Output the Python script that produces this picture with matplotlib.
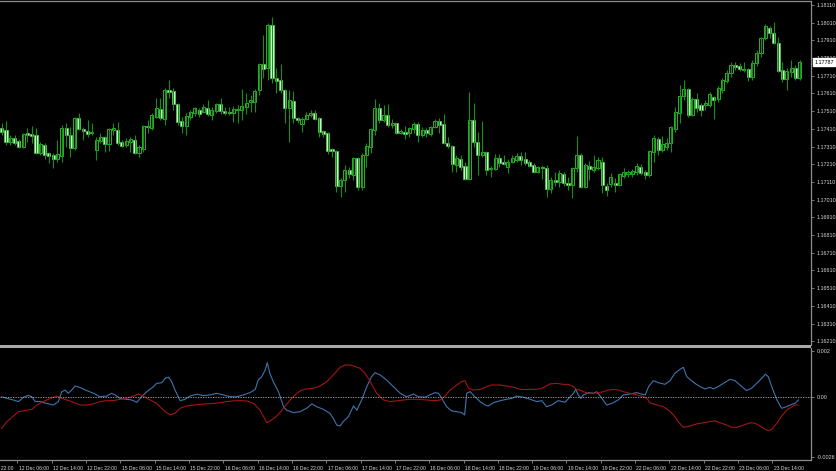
import numpy as np
import matplotlib
matplotlib.use('Agg')
import matplotlib.pyplot as plt
from matplotlib.patches import Rectangle
import matplotlib.transforms as mtransforms

plt.rcParams['font.family'] = ['Liberation Sans', 'DejaVu Sans']

# H1 candles, 12 Dec 02:00 .. 23 Dec 20:00
opens = [1.17413, 1.17404, 1.17337, 1.17357, 1.17343, 1.17309, 1.17388, 1.17379, 1.17375, 1.17272,
         1.17319, 1.17272, 1.17262, 1.17238, 1.17257, 1.17413, 1.17375, 1.17300, 1.17473, 1.17407,
         1.17398, 1.17385, 1.17291, 1.17343, 1.17366, 1.17323, 1.17404, 1.17404, 1.17337, 1.17319,
         1.17334, 1.17347, 1.17275, 1.17294, 1.17426, 1.17413, 1.17479, 1.17520, 1.17464, 1.17630,
         1.17624, 1.17550, 1.17456, 1.17426, 1.17475, 1.17498, 1.17516, 1.17507, 1.17529, 1.17488,
         1.17511, 1.17549, 1.17511, 1.17505, 1.17498, 1.17516, 1.17516, 1.17532, 1.17560, 1.17563,
         1.17630, 1.17776, 1.17752, 1.17997, 1.17696, 1.17686, 1.17630, 1.17526, 1.17569, 1.17471,
         1.17437, 1.17464, 1.17487, 1.17501, 1.17470, 1.17396, 1.17388, 1.17294, 1.17286, 1.17087,
         1.17121, 1.17178, 1.17149, 1.17244, 1.17080, 1.17262, 1.17309, 1.17404, 1.17526, 1.17460,
         1.17488, 1.17432, 1.17441, 1.17385, 1.17394, 1.17388, 1.17409, 1.17436, 1.17375, 1.17404,
         1.17381, 1.17422, 1.17454, 1.17437, 1.17328, 1.17313, 1.17206, 1.17240, 1.17200, 1.17127,
         1.17460, 1.17337, 1.17262, 1.17281, 1.17181, 1.17181, 1.17244, 1.17221, 1.17196, 1.17224,
         1.17234, 1.17257, 1.17238, 1.17221, 1.17206, 1.17168, 1.17193, 1.17190, 1.17068, 1.17121,
         1.17112, 1.17155, 1.17106, 1.17093, 1.17187, 1.17262, 1.17083, 1.17200, 1.17178, 1.17190,
         1.17224, 1.17087, 1.17098, 1.17102, 1.17093, 1.17145, 1.17155, 1.17155, 1.17164, 1.17196,
         1.17168, 1.17149, 1.17281, 1.17351, 1.17291, 1.17309, 1.17328, 1.17407, 1.17498, 1.17596,
         1.17633, 1.17488, 1.17577, 1.17545, 1.17545, 1.17545, 1.17588, 1.17577, 1.17630, 1.17682,
         1.17724, 1.17771, 1.17765, 1.17743, 1.17746, 1.17705, 1.17780, 1.17837, 1.17921, 1.17978,
         1.17953, 1.17893, 1.17743, 1.17690, 1.17733, 1.17752, 1.17696]
highs = [1.17441, 1.17456, 1.17375, 1.17375, 1.17351, 1.17385, 1.17413, 1.17428, 1.17413, 1.17337,
         1.17328, 1.17281, 1.17272, 1.17347, 1.17432, 1.17441, 1.17422, 1.17479, 1.17498, 1.17422,
         1.17460, 1.17445, 1.17366, 1.17388, 1.17370, 1.17413, 1.17441, 1.17450, 1.17347, 1.17357,
         1.17366, 1.17375, 1.17319, 1.17432, 1.17460, 1.17498, 1.17583, 1.17583, 1.17639, 1.17686,
         1.17639, 1.17554, 1.17475, 1.17498, 1.17516, 1.17535, 1.17526, 1.17550, 1.17573, 1.17535,
         1.17554, 1.17583, 1.17535, 1.17535, 1.17539, 1.17545, 1.17633, 1.17611, 1.17601, 1.17633,
         1.17780, 1.17940, 1.18006, 1.18040, 1.17752, 1.17776, 1.17633, 1.17630, 1.17626, 1.17479,
         1.17475, 1.17507, 1.17516, 1.17516, 1.17475, 1.17404, 1.17394, 1.17300, 1.17291, 1.17131,
         1.17206, 1.17196, 1.17253, 1.17253, 1.17272, 1.17328, 1.17413, 1.17577, 1.17558, 1.17545,
         1.17549, 1.17464, 1.17445, 1.17407, 1.17426, 1.17422, 1.17450, 1.17450, 1.17422, 1.17413,
         1.17426, 1.17464, 1.17470, 1.17492, 1.17366, 1.17319, 1.17262, 1.17262, 1.17224, 1.17620,
         1.17554, 1.17394, 1.17456, 1.17286, 1.17200, 1.17268, 1.17268, 1.17262, 1.17238, 1.17262,
         1.17272, 1.17281, 1.17281, 1.17234, 1.17215, 1.17200, 1.17206, 1.17206, 1.17140, 1.17168,
         1.17178, 1.17168, 1.17140, 1.17196, 1.17370, 1.17272, 1.17215, 1.17230, 1.17262, 1.17249,
         1.17253, 1.17102, 1.17159, 1.17131, 1.17159, 1.17187, 1.17178, 1.17181, 1.17215, 1.17211,
         1.17178, 1.17291, 1.17375, 1.17366, 1.17370, 1.17357, 1.17426, 1.17535, 1.17658, 1.17686,
         1.17639, 1.17588, 1.17614, 1.17554, 1.17573, 1.17620, 1.17596, 1.17652, 1.17696, 1.17743,
         1.17789, 1.17789, 1.17780, 1.17789, 1.17752, 1.17799, 1.17856, 1.17931, 1.18002, 1.17991,
         1.18015, 1.17931, 1.17789, 1.17752, 1.17799, 1.17771, 1.17799]
lows = [1.17375, 1.17319, 1.17319, 1.17319, 1.17300, 1.17300, 1.17337, 1.17328, 1.17268, 1.17262,
        1.17238, 1.17215, 1.17187, 1.17224, 1.17224, 1.17309, 1.17253, 1.17291, 1.17404, 1.17347,
        1.17366, 1.17375, 1.17234, 1.17328, 1.17281, 1.17286, 1.17375, 1.17319, 1.17309, 1.17309,
        1.17281, 1.17268, 1.17253, 1.17281, 1.17385, 1.17404, 1.17470, 1.17460, 1.17432, 1.17583,
        1.17516, 1.17432, 1.17388, 1.17375, 1.17460, 1.17483, 1.17479, 1.17498, 1.17483, 1.17460,
        1.17498, 1.17494, 1.17488, 1.17488, 1.17450, 1.17441, 1.17460, 1.17494, 1.17507, 1.17507,
        1.17601, 1.17696, 1.17686, 1.17667, 1.17611, 1.17611, 1.17441, 1.17337, 1.17445, 1.17441,
        1.17394, 1.17460, 1.17479, 1.17460, 1.17366, 1.17366, 1.17268, 1.17253, 1.17055, 1.17027,
        1.17055, 1.17131, 1.17121, 1.17065, 1.17065, 1.17196, 1.17272, 1.17375, 1.17441, 1.17450,
        1.17422, 1.17413, 1.17381, 1.17381, 1.17351, 1.17366, 1.17385, 1.17337, 1.17366, 1.17366,
        1.17370, 1.17413, 1.17385, 1.17324, 1.17300, 1.17168, 1.17168, 1.17178, 1.17121, 1.17121,
        1.17309, 1.17149, 1.17253, 1.17149, 1.17140, 1.17178, 1.17196, 1.17206, 1.17159, 1.17215,
        1.17224, 1.17206, 1.17206, 1.17193, 1.17159, 1.17159, 1.17125, 1.17023, 1.17049, 1.17087,
        1.17083, 1.17087, 1.17065, 1.17018, 1.17168, 1.17074, 1.17074, 1.17121, 1.17168, 1.17178,
        1.17048, 1.17031, 1.17083, 1.17055, 1.17087, 1.17131, 1.17140, 1.17140, 1.17149, 1.17149,
        1.17125, 1.17140, 1.17224, 1.17262, 1.17281, 1.17291, 1.17281, 1.17394, 1.17441, 1.17573,
        1.17479, 1.17483, 1.17507, 1.17483, 1.17516, 1.17535, 1.17464, 1.17563, 1.17614, 1.17667,
        1.17705, 1.17743, 1.17739, 1.17733, 1.17682, 1.17686, 1.17765, 1.17818, 1.17912, 1.17922,
        1.17889, 1.17733, 1.17676, 1.17630, 1.17705, 1.17686, 1.17686]
closes = [1.17394, 1.17337, 1.17357, 1.17332, 1.17309, 1.17381, 1.17377, 1.17370, 1.17272, 1.17324,
          1.17262, 1.17257, 1.17240, 1.17268, 1.17413, 1.17375, 1.17300, 1.17470, 1.17407, 1.17398,
          1.17381, 1.17394, 1.17347, 1.17366, 1.17323, 1.17409, 1.17413, 1.17332, 1.17315, 1.17343,
          1.17351, 1.17275, 1.17306, 1.17426, 1.17419, 1.17488, 1.17526, 1.17470, 1.17630, 1.17620,
          1.17549, 1.17450, 1.17426, 1.17483, 1.17507, 1.17526, 1.17494, 1.17532, 1.17492, 1.17516,
          1.17549, 1.17513, 1.17501, 1.17498, 1.17522, 1.17524, 1.17539, 1.17554, 1.17573, 1.17626,
          1.17776, 1.17750, 1.17997, 1.17696, 1.17682, 1.17630, 1.17526, 1.17573, 1.17470, 1.17460,
          1.17464, 1.17490, 1.17501, 1.17464, 1.17394, 1.17381, 1.17286, 1.17285, 1.17087, 1.17121,
          1.17178, 1.17153, 1.17244, 1.17080, 1.17262, 1.17313, 1.17407, 1.17526, 1.17460, 1.17488,
          1.17432, 1.17445, 1.17388, 1.17399, 1.17383, 1.17413, 1.17437, 1.17375, 1.17404, 1.17385,
          1.17422, 1.17454, 1.17432, 1.17328, 1.17313, 1.17211, 1.17244, 1.17196, 1.17127, 1.17460,
          1.17337, 1.17262, 1.17277, 1.17178, 1.17190, 1.17244, 1.17215, 1.17209, 1.17224, 1.17247,
          1.17257, 1.17234, 1.17215, 1.17200, 1.17168, 1.17193, 1.17187, 1.17068, 1.17121, 1.17112,
          1.17159, 1.17102, 1.17093, 1.17187, 1.17262, 1.17083, 1.17204, 1.17181, 1.17196, 1.17234,
          1.17093, 1.17065, 1.17140, 1.17093, 1.17153, 1.17168, 1.17166, 1.17173, 1.17202, 1.17162,
          1.17149, 1.17285, 1.17357, 1.17291, 1.17324, 1.17332, 1.17419, 1.17507, 1.17596, 1.17633,
          1.17488, 1.17577, 1.17526, 1.17516, 1.17554, 1.17607, 1.17573, 1.17639, 1.17686, 1.17727,
          1.17771, 1.17758, 1.17746, 1.17746, 1.17705, 1.17784, 1.17840, 1.17921, 1.17991, 1.17953,
          1.17893, 1.17739, 1.17690, 1.17739, 1.17752, 1.17696, 1.17787]

price_ticks = [1.16210, 1.16310, 1.16410, 1.16510, 1.16610, 1.16710, 1.16810, 1.16910, 1.17010, 1.17110,
               1.17210, 1.17310, 1.17410, 1.17510, 1.17610, 1.17710, 1.17810, 1.17910, 1.18010, 1.18110]
current_price = 1.17787

time_labels = ['11 Dec 22:00', '12 Dec 06:00', '12 Dec 14:00', '12 Dec 22:00', '15 Dec 06:00',
               '15 Dec 14:00', '15 Dec 22:00', '16 Dec 06:00', '16 Dec 14:00', '16 Dec 22:00',
               '17 Dec 06:00', '17 Dec 14:00', '17 Dec 22:00', '18 Dec 06:00', '18 Dec 14:00',
               '18 Dec 22:00', '19 Dec 06:00', '19 Dec 14:00', '19 Dec 22:00', '22 Dec 06:00',
               '22 Dec 14:00', '22 Dec 22:00', '23 Dec 06:00', '23 Dec 14:00']
time_label_bars = list(range(-4, 181, 8))

# indicator lines (bar index, value)
blue_bar = [0, 1.2, 2.7, 3.9, 5.1, 6.2, 7.0, 7.8, 8.9, 10.5, 12.0, 13.2, 14.0, 14.8, 15.5, 16.3, 17.1,
            18.3, 19.8, 21.4, 22.9, 24.5, 25.6, 26.4, 27.6, 29.1, 30.3, 31.5, 32.6, 33.8, 35.4, 36.1,
            37.3, 38.1, 38.9, 39.6, 40.4, 41.6, 42.7, 43.9, 45.5, 47.0, 48.6, 50.1, 51.7, 53.2, 54.8,
            56.3, 57.9, 59.1, 59.8, 60.6, 61.4, 61.9, 62.5, 63.3, 64.5, 65.7, 66.4, 68.0, 69.5, 71.1,
            72.3, 73.4, 75.0, 76.5, 77.3, 78.1, 78.9, 79.6, 80.8, 82.0, 82.8, 83.9, 85.1, 86.2, 87.0,
            88.2, 89.7, 91.3, 92.9, 94.4, 96.0, 97.1, 98.7, 99.8, 101.0, 101.8, 102.6, 103.7, 104.9,
            106.1, 107.2, 107.9, 108.4, 109.2, 110.3, 111.5, 112.7, 113.4, 114.6, 116.2, 117.7, 118.9,
            120.0, 121.6, 123.2, 124.7, 125.9, 127.0, 128.2, 129.7, 131.3, 132.5, 133.3, 133.8, 134.4,
            135.0, 135.6, 136.8, 138.0, 138.7, 139.9, 141.0, 142.2, 143.7, 144.9, 146.5, 148.0, 149.2,
            150.0, 150.8, 151.9, 153.1, 154.6, 155.8, 156.9, 158.1, 158.9, 159.7, 160.4, 161.6, 162.8,
            163.9, 165.1, 165.9, 167.0, 168.2, 169.8, 170.9, 172.1, 173.6, 174.8, 176.4, 177.5, 178.0,
            178.7, 179.5, 180.7, 181.8, 183.0, 184.2, 184.9, 185.7]
blue_val = [0.00001, -0.00006, -0.00013, -0.00020, -0.00001, 0.00007, 0.00001, -0.00020, -0.00020,
            -0.00028, -0.00035, -0.00020, 0.00023, 0.00030, 0.00016, 0.00030, 0.00048, 0.00041, 0.00028,
            0.00016, 0.00001, 0.00004, 0.00016, 0.00009, -0.00006, -0.00010, -0.00013, -0.00023, 0.00001,
            0.00023, 0.00045, 0.00059, 0.00062, 0.00081, 0.00086, 0.00067, 0.00030, -0.00016, -0.00010,
            0.00004, 0.00012, 0.00006, 0.00009, 0.00016, 0.00009, 0.00001, 0.00001, 0.00009, 0.00019,
            0.00033, 0.00074, 0.00088, 0.00117, 0.00149, 0.00103, 0.00067, 0.00023, -0.00042, -0.00057,
            -0.00068, -0.00064, -0.00049, -0.00030, -0.00042, -0.00054, -0.00071, -0.00093, -0.00122,
            -0.00126, -0.00107, -0.00086, -0.00039, -0.00057, -0.00013, 0.00045, 0.00088, 0.00106,
            0.00096, 0.00074, 0.00045, 0.00016, 0.00001, 0.00013, 0.00001, -0.00001, 0.00009, 0.00019,
            0.00016, -0.00006, -0.00042, -0.00061, -0.00064, -0.00068, -0.00078, 0.00016, 0.00023,
            0.00001, -0.00020, -0.00035, -0.00039, -0.00025, -0.00016, -0.00010, -0.00006, 0.00004,
            -0.00001, -0.00010, -0.00020, -0.00016, -0.00042, -0.00035, -0.00016, -0.00023, 0.00001,
            0.00016, 0.00033, 0.00009, -0.00006, 0.00009, 0.00019, 0.00016, 0.00023, -0.00006, -0.00035,
            -0.00028, -0.00013, 0.00009, 0.00013, 0.00019, 0.00012, 0.00009, 0.00045, 0.00071, 0.00062,
            0.00055, 0.00071, 0.00103, 0.00120, 0.00129, 0.00088, 0.00077, 0.00059, 0.00045, 0.00035,
            0.00042, 0.00035, 0.00045, 0.00059, 0.00077, 0.00071, 0.00052, 0.00028, 0.00038, 0.00067,
            0.00088, 0.00099, 0.00088, 0.00045, -0.00013, -0.00049, -0.00042, -0.00032, -0.00028,
            -0.00013]
red_bar = [0, 1.2, 2.7, 3.9, 5.4, 7.0, 8.2, 9.7, 11.3, 12.8, 14.0, 15.2, 16.3, 18.3, 19.8, 21.4, 22.9,
           24.5, 26.0, 27.6, 29.1, 30.7, 31.9, 33.0, 34.6, 36.1, 37.7, 39.2, 40.4, 41.6, 43.1, 44.7,
           46.2, 47.8, 49.3, 50.9, 52.4, 54.0, 55.6, 57.1, 58.7, 60.2, 61.8, 62.9, 64.1, 65.7, 67.2,
           68.8, 69.9, 71.1, 72.7, 74.2, 75.8, 77.3, 78.9, 80.0, 81.2, 82.4, 83.5, 84.7, 85.9, 87.4,
           89.0, 90.5, 92.1, 93.6, 95.2, 97.1, 99.1, 101.0, 102.2, 103.3, 104.5, 106.1, 107.2, 108.0,
           108.8, 110.0, 111.5, 113.1, 114.2, 116.2, 117.7, 119.3, 120.8, 122.4, 123.9, 125.5, 126.7,
           127.8, 129.4, 130.9, 132.1, 133.3, 134.0, 134.8, 135.6, 136.8, 138.0, 139.1, 140.3, 141.4,
           142.6, 143.8, 144.9, 146.5, 148.0, 149.6, 150.4, 151.1, 152.7, 154.2, 155.4, 156.6, 157.7,
           158.9, 160.4, 162.0, 163.5, 165.1, 166.3, 167.4, 169.0, 170.2, 171.3, 172.9, 174.5, 175.6,
           176.8, 178.0, 178.7, 179.5, 180.7, 181.8, 183.0, 184.2, 184.9, 185.7]
red_val = [-0.00136, -0.00107, -0.00083, -0.00064, -0.00059, -0.00054, -0.00035, -0.00020, -0.00006,
           0.00004, -0.00006, -0.00013, -0.00020, -0.00035, -0.00035, -0.00030, -0.00020, -0.00016,
           -0.00016, -0.00010, -0.00006, 0.00004, 0.00013, 0.00004, -0.00013, -0.00028, -0.00057,
           -0.00078, -0.00071, -0.00049, -0.00039, -0.00035, -0.00032, -0.00030, -0.00028, -0.00025,
           -0.00020, -0.00017, -0.00016, -0.00017, -0.00028, -0.00057, -0.00112, -0.00100, -0.00083,
           -0.00049, -0.00013, 0.00016, 0.00030, 0.00035, 0.00038, 0.00048, 0.00067, 0.00096, 0.00129,
           0.00139, 0.00139, 0.00132, 0.00125, 0.00103, 0.00067, 0.00016, -0.00013, -0.00020, -0.00017,
           -0.00013, -0.00010, -0.00010, -0.00013, -0.00016, -0.00013, 0.00004, 0.00030, 0.00052,
           0.00067, 0.00071, 0.00038, 0.00030, 0.00033, 0.00045, 0.00052, 0.00052, 0.00048, 0.00042,
           0.00033, 0.00033, 0.00033, 0.00035, 0.00045, 0.00057, 0.00059, 0.00055, 0.00055, 0.00045,
           0.00033, 0.00030, 0.00023, 0.00016, 0.00016, 0.00019, 0.00023, 0.00030, 0.00033, 0.00030,
           0.00023, 0.00016, 0.00009, 0.00001, -0.00006, -0.00025, -0.00035, -0.00042, -0.00057,
           -0.00078, -0.00107, -0.00132, -0.00126, -0.00117, -0.00112, -0.00107, -0.00104, -0.00112,
           -0.00122, -0.00132, -0.00132, -0.00122, -0.00112, -0.00114, -0.00126, -0.00141, -0.00146,
           -0.00141, -0.00114, -0.00083, -0.00057, -0.00042, -0.00035, -0.00035]
ind_ticks = [0.002, 0.0, -0.0026]
ind_tick_labels = ['0.002', '0.00', '-0.0026']

bg = 'black'
grid_col = '#8c8c8c'
txt_col = '#d8d8d8'
wick_col = '#188e18'
bull_edge = '#26b826'
bear_face = '#d0fad0'
fs_price = 3.9
fs_time = 3.6

W, H = 837, 471
fig = plt.figure(figsize=(W / 100, H / 100), dpi=100, facecolor=bg)

def frac(x0, y0, x1, y1):
    return [x0 / W, 1 - y1 / H, (x1 - x0) / W, (y1 - y0) / H]

ax = fig.add_axes(frac(0, 1, 811, 345))
ax2 = fig.add_axes(frac(0, 348, 811, 460))
fig.patches.append(Rectangle((0, 1 - 347.6 / H), 811 / W, 2.6 / H, transform=fig.transFigure,
                             facecolor='#a8a8a8', edgecolor='none'))

n = len(opens)
xs = np.arange(n)
o = np.array(opens); c = np.array(closes); h = np.array(highs); l = np.array(lows)
bull = c >= o

ax.vlines(xs, l, h, color=wick_col, linewidth=0.8)
bot = np.minimum(o, c)
hgt = np.abs(c - o)
ax.bar(xs[bull], hgt[bull], bottom=bot[bull], width=0.72, facecolor=bg, edgecolor=bull_edge,
       linewidth=0.7)
ax.bar(xs[~bull], hgt[~bull], bottom=bot[~bull], width=0.72, facecolor=bear_face, edgecolor='#50d050',
       linewidth=0.5)

x_left = -0.40
x_right = (811 - 1.7) / 4.29
ax.set_xlim(x_left, x_right)
ax.set_ylim(1.16189, 1.18132)

for a in (ax, ax2):
    a.set_facecolor(bg)
    for s in ('left', 'bottom'):
        a.spines[s].set_visible(False)
    for s in ('top', 'right'):
        a.spines[s].set_color(grid_col)
        a.spines[s].set_linewidth(0.9)
    a.yaxis.tick_right()
    a.tick_params(axis='y', colors=grid_col, labelcolor=txt_col, labelsize=fs_price, length=2.5,
                  width=0.6, pad=1.5)
ax2.spines['top'].set_visible(False)
ax2.spines['bottom'].set_visible(True)
ax2.spines['bottom'].set_color(grid_col)
ax2.spines['bottom'].set_linewidth(0.9)

ax.set_yticks(price_ticks)
ax.set_yticklabels(['%.5f' % p for p in price_ticks])
ax.set_xticks([])

# current price box
ax.annotate('%.5f' % current_price, xy=(1.0, current_price), xycoords=('axes fraction', 'data'),
            xytext=(2.3, 0), textcoords='offset points', ha='left', va='center', fontsize=fs_price,
            color='black', annotation_clip=False,
            bbox=dict(boxstyle='square,pad=0.2', facecolor='white', edgecolor='white'))

# indicator
ax2.plot(blue_bar, blue_val, color='#3f74ad', linewidth=0.8)
ax2.plot(red_bar, red_val, color='#a31515', linewidth=0.8)
ax2.axhline(0, color='#b0b0b0', linewidth=0.6, linestyle=(0, (1.5, 1.5)))
ax2.set_xlim(x_left, x_right)
ax2.set_ylim(-0.00274, 0.00213)
ax2.set_yticks(ind_ticks)
ax2.set_yticklabels(ind_tick_labels)

tick_pos = [b - 0.35 for b in time_label_bars]
ax2.set_xticks([t for t in tick_pos if t >= x_left])
ax2.set_xticklabels([])
ax2.tick_params(axis='x', colors=grid_col, length=2.5, width=0.6)
trans = mtransforms.blended_transform_factory(ax2.transData, ax2.transAxes)
for t, lab in zip(tick_pos, time_labels):
    ax2.text(t + 0.3, -0.05, lab, transform=trans, ha='left', va='top', fontsize=fs_time,
             color=txt_col, clip_on=False)

fig.savefig('out.png', dpi=100, facecolor=bg)
